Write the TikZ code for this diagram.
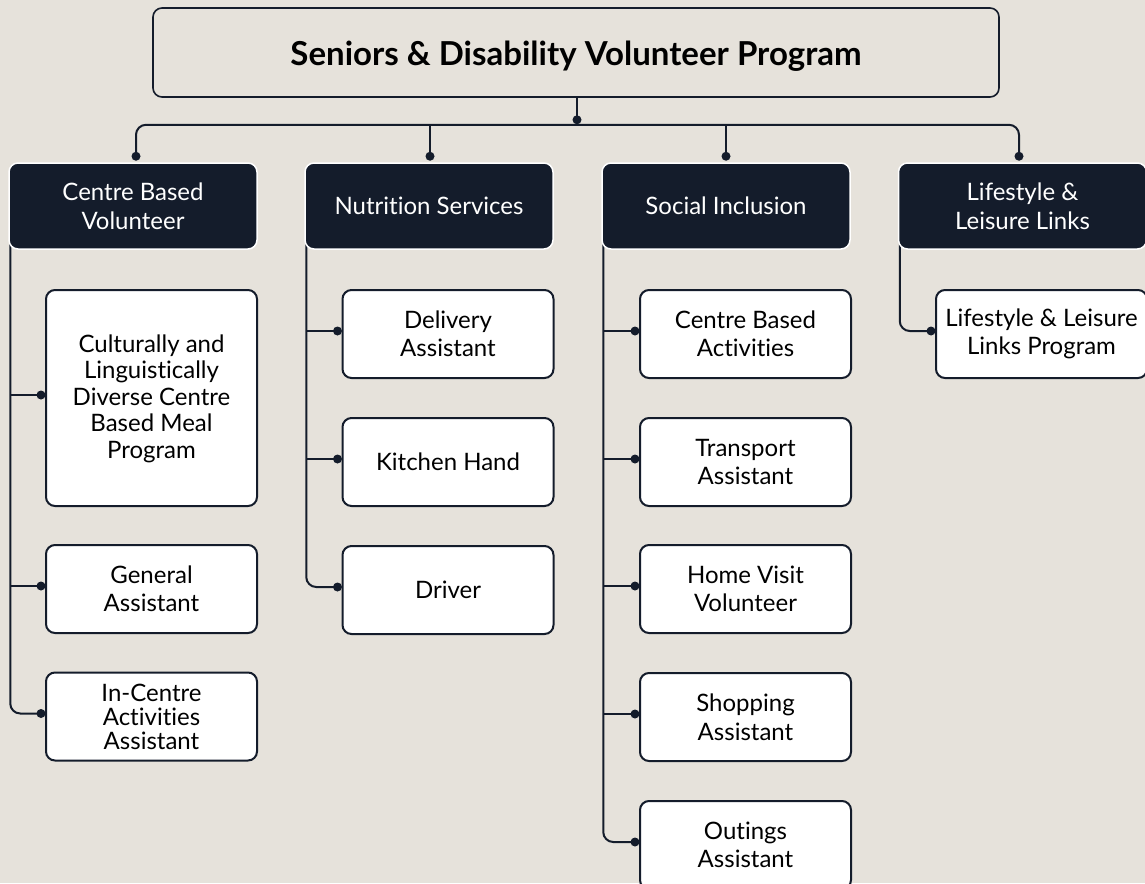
\documentclass[tikz,border=0pt]{standalone}
\usepackage{fontspec}
\setmainfont{Lato}[Ligatures={NoCommon}]
\usetikzlibrary{calc}
\definecolor{paper}{HTML}{E6E2DB}
\definecolor{ink}{HTML}{141C2B}
\pgfdeclarelayer{paperlayer}
\pgfdeclarelayer{wirelayer}
\pgfsetlayers{paperlayer,wirelayer,main}

\begin{document}
\begin{tikzpicture}[x=1pt,y=-1pt,
  wire/.style={draw=ink,line width=2pt,rounded corners=10pt},
  joint/.style={circle,fill=ink,inner sep=0pt,minimum size=9pt},
  rootbox/.style={draw=ink,line width=1.6pt,rounded corners=9pt,fill=paper,
    minimum width=846pt,minimum height=89pt,text=black,
    font=\fontsize{33}{38}\selectfont\bfseries},
  headbox/.style={draw=white,line width=1.5pt,rounded corners=9pt,fill=ink,
    text=white,minimum width=248pt,minimum height=86pt,align=center,
    font=\fontsize{24}{29}\selectfont},
  rolebox/.style={draw=ink,line width=2pt,rounded corners=9pt,fill=white,
    text=black,minimum width=211pt,minimum height=88pt,align=center,
    font=\fontsize{24}{28.5}\selectfont},
]
\begin{pgfonlayer}{paperlayer}
  \fill[paper] (0,0) rectangle (1145,883);
\end{pgfonlayer}
\useasboundingbox (0,0) rectangle (1145,883);

% program title
\node[rootbox] (root) at (576,52.5)
  {\raisebox{-4pt}[\height][\depth]{Seniors \& Disability Volunteer Program}};

% stream headers
\node[headbox] (hcb) at (133,206) {Centre Based\\Volunteer};
\node[headbox] (hns) at (429,206) {Nutrition Services};
\node[headbox] (hsi) at (726,206) {Social Inclusion};
\node[headbox] (hll) at (1022.5,206) {Lifestyle \&\\Leisure Links};

% Centre Based Volunteer roles
\node[rolebox,minimum height=216pt] (cald) at (151.5,398)
  {\raisebox{-2pt}[\height][\depth]{\fontsize{24}{26.5}\selectfont
   \begin{tabular}{@{}c@{}}Culturally and\\Linguistically\\Diverse Centre\\Based Meal\\Program\end{tabular}}};
\node[rolebox] (gen) at (151.5,589) {General\\Assistant};
\node[rolebox,font=\fontsize{24}{24}\selectfont] (inc) at (151.5,716.5) {In-Centre\\Activities\\Assistant};

% Nutrition Services roles
\node[rolebox] (del) at (448,334) {Delivery\\Assistant};
\node[rolebox] (kit) at (448,462) {Kitchen Hand};
\node[rolebox] (drv) at (448,590) {Driver};

% Social Inclusion roles
\node[rolebox] (cba) at (745.5,334) {Centre Based\\Activities};
\node[rolebox] (tra) at (745.5,462) {Transport\\Assistant};
\node[rolebox] (hvv) at (745.5,589) {Home Visit\\Volunteer};
\node[rolebox] (sho) at (745.5,717) {Shopping\\Assistant};
\node[rolebox] (out) at (745.5,845) {Outings\\Assistant};

% Lifestyle & Leisure Links role
\node[rolebox] (llp) at (1041.5,334) {Lifestyle \& Leisure\\Links Program};

% junction points
\coordinate (dtop) at ([xshift=1pt,yshift=-22pt]root.south);
\coordinate (bus) at ([yshift=-5pt]dtop);
\coordinate (dcb) at ([xshift=3pt,yshift=6pt]hcb.north);
\coordinate (dns) at ([xshift=1pt,yshift=6pt]hns.north);
\coordinate (dsi) at ([yshift=6pt]hsi.north);
\coordinate (dll) at ([xshift=-3.5pt,yshift=6pt]hll.north);

\coordinate (tcb) at ($(hcb.south west)+(2,-10)$);
\coordinate (tns) at ($(hns.south west)+(2,-10)$);
\coordinate (tsi) at ($(hsi.south west)+(2,-10)$);
\coordinate (tll) at ($(hll.south west)+(2,-10)$);

\foreach \n in {cald,gen,inc,del,kit,drv,cba,tra,hvv,sho,out,llp}
  \coordinate (b\n) at ([xshift=-4pt,yshift=3pt]\n.west);

\begin{pgfonlayer}{wirelayer}
  \draw[wire] (root.south -| dtop) -- (dtop);
  \draw[wire] (dcb) -- (dcb |- bus) -- (dll |- bus) -- (dll);
  \draw[wire] (dns |- bus) -- (dns);
  \draw[wire] (dsi |- bus) -- (dsi);
  % Centre Based Volunteer branch
  \draw[wire] (tcb) |- (binc);
  \draw[wire] (tcb |- bcald) -- (bcald);
  \draw[wire] (tcb |- bgen) -- (bgen);
  % Nutrition Services branch
  \draw[wire] (tns) |- (bdrv);
  \draw[wire] (tns |- bdel) -- (bdel);
  \draw[wire] (tns |- bkit) -- (bkit);
  % Social Inclusion branch
  \draw[wire] (tsi) |- (bout);
  \draw[wire] (tsi |- bcba) -- (bcba);
  \draw[wire] (tsi |- btra) -- (btra);
  \draw[wire] (tsi |- bhvv) -- (bhvv);
  \draw[wire] (tsi |- bsho) -- (bsho);
  % Lifestyle & Leisure Links branch
  \draw[wire] (tll) |- (bllp);
\end{pgfonlayer}

% connection dots
\foreach \p in {dtop,dcb,dns,dsi,dll,bcald,bgen,binc,bdel,bkit,bdrv,bcba,btra,bhvv,bsho,bout,bllp}
  \node[joint] at (\p) {};
\end{tikzpicture}
\end{document}
